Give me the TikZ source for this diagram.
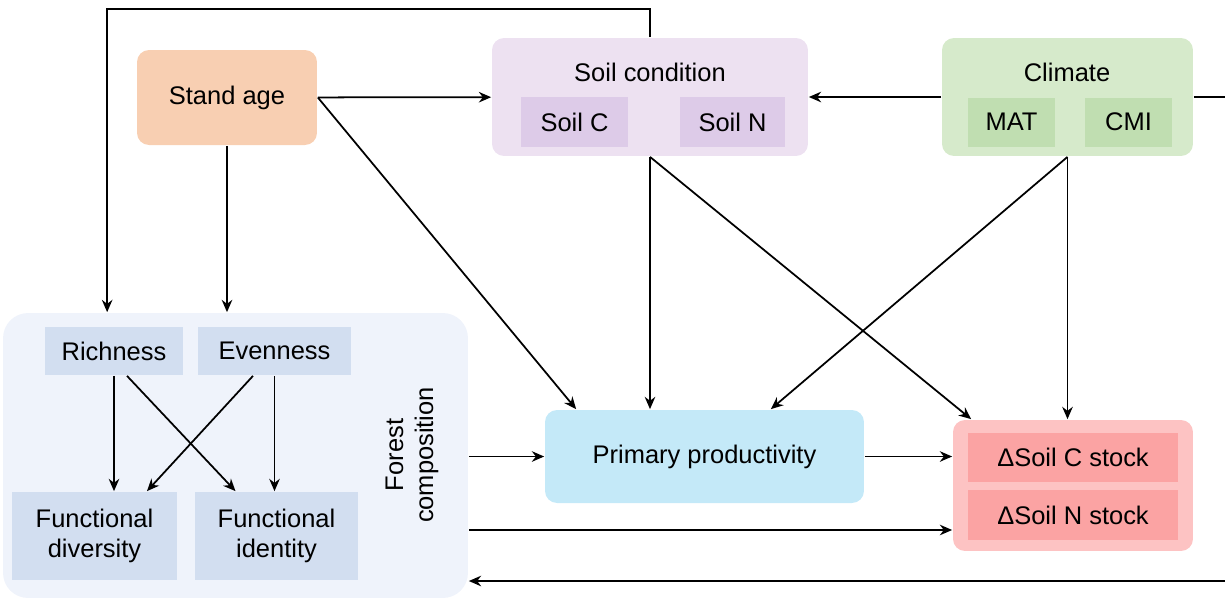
\documentclass[tikz,border=0pt]{standalone}
\usepackage{fontspec}
\setmainfont{Liberation Sans}
\usepackage{tikz}
\usetikzlibrary{positioning, arrows.meta}
\definecolor{agefill}{HTML}{F8CFB2}
\definecolor{soilfill}{HTML}{EDE1F1}
\definecolor{soilin}{HTML}{DDCBE8}
\definecolor{climfill}{HTML}{D6EACB}
\definecolor{climin}{HTML}{C0DEB1}
\definecolor{forfill}{HTML}{EFF3FB}
\definecolor{forin}{HTML}{D2DEF0}
\definecolor{ppfill}{HTML}{C4E9F8}
\definecolor{dsfill}{HTML}{FDC3C3}
\definecolor{dsin}{HTML}{FBA3A3}
\tikzset{
>={Stealth[length=7pt,width=6pt]}, % arrow heads
every node/.style={font=\fontsize{14.5}{17}\selectfont}, % text size of all labels
box/.style={rectangle, rounded corners=0.24cm, align=center, inner sep=0pt}, % the coloured blocks
sub/.style={rectangle, align=center, inner sep=0pt}, % the inner squares
}

\begin{document}
\begin{tikzpicture}[x=0.02cm, y=-0.02cm, line width=1pt]
\useasboundingbox (0,0) rectangle (1225,600);
\node[box, fill=agefill, minimum width=3.6cm, minimum height=1.9cm] (age) at (227,97.5) {Stand age};
\node[box, fill=soilfill, minimum width=6.32cm, minimum height=2.36cm] (soil) at (650,97) {};
\node (soiltitle) at (650,72) {Soil condition};
\node[sub, fill=soilin, minimum width=2.14cm, minimum height=1cm] (soilC) at (574.5,122) {Soil C};
\node[sub, fill=soilin, minimum width=2.1cm, minimum height=1cm] (soilN) at (732.5,122) {Soil N};
\node[box, fill=climfill, minimum width=5.02cm, minimum height=2.36cm] (clim) at (1067.5,97) {};
\node (climtitle) at (1067,72) {Climate};
\node[sub, fill=climin, minimum width=1.74cm, minimum height=0.98cm] (mat) at (1011.5,122) {MAT};
\node[sub, fill=climin, minimum width=1.74cm, minimum height=0.98cm] (cmi) at (1128.5,122) {CMI};
\node[box, rounded corners=0.5cm, fill=forfill, minimum width=9.3cm, minimum height=5.7cm] (forest) at (235.5,455.5) {};
\node[sub, fill=forin, minimum width=2.76cm, minimum height=0.96cm] (rich) at (114,351) {Richness};
\node[sub, fill=forin, minimum width=3.06cm, minimum height=0.96cm] (even) at (274.5,351) {Evenness};
\node[sub, fill=forin, minimum width=3.3cm, minimum height=1.76cm] (fdiv) at (94.5,536) {Functional\\diversity};
\node[sub, fill=forin, minimum width=3.26cm, minimum height=1.76cm] (fid) at (276.5,536) {Functional\\identity};
\node[rotate=90, align=center] (fcomp) at (412,455) {Forest\\composition};
\node[box, fill=ppfill, minimum width=6.38cm, minimum height=1.86cm] (pp) at (704.5,456.5) {Primary productivity};
\node[box, fill=dsfill, minimum width=4.8cm, minimum height=2.62cm] (dsoil) at (1073,485.5) {};
\node[sub, fill=dsin, minimum width=4.2cm, minimum height=0.98cm] (dsC) at (1073,457.5) {ΔSoil C stock};
\node[sub, fill=dsin, minimum width=4.2cm, minimum height=1cm] (dsN) at (1073,515) {ΔSoil N stock};
\coordinate (fout) at ([yshift=-1.49cm]forest.east);
\coordinate (turn) at (1240,581);

\path[->] (age) edge node {} (soil)
(clim) edge node {} (soil)
(age.east) edge node {} ([xshift=0.64cm]pp.north west)
(soil.south) edge node {} (soil.south |- pp.north)
(soil.south) edge node {} ([xshift=0.38cm]dsoil.north west)
(clim.south) edge node {} ([xshift=-1.88cm]pp.north east)
(clim.south) edge node {} (clim.south |- dsoil.north)
(pp.east) edge node {} (pp.east -| dsoil.west)
(forest.east |- pp.west) edge node {} (pp.west)
(fout) edge node {} (fout -| dsoil.west)
(age.south) edge node {} (age.south |- forest.north);
\path[->] (rich.south) edge node {} (rich.south |- fdiv.north)
([xshift=0.26cm]rich.south) edge node {} ([xshift=-0.82cm]fid.north)
([xshift=-0.43cm]even.south) edge node {} ([xshift=1.05cm]fdiv.north)
(even.south) edge node {} (even.south |- fid.north);
\draw[->] (soil.north) -- ++(0,-28) -| ([xshift=2.1cm]forest.north west);
\draw[->] (clim.east) -| (turn) -- (turn -| forest.east);
\end{tikzpicture}
\end{document}
